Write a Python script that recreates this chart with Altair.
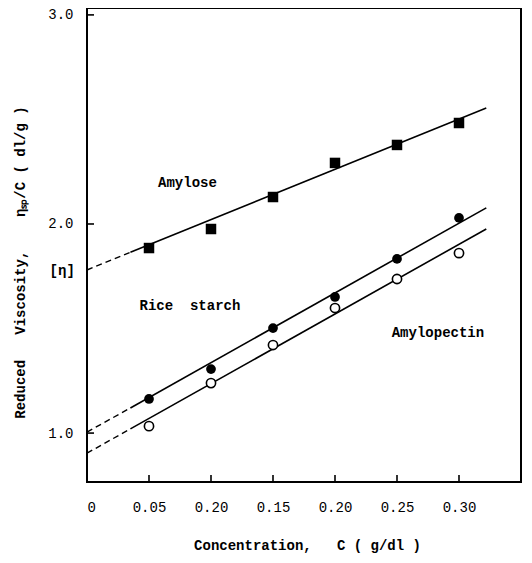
import altair as alt
import pandas as pd

NB = "\u00a0"  # non-breaking space (SVG collapses ordinary repeated spaces)

# ---- data ----
conc = [0.05, 0.10, 0.15, 0.20, 0.25, 0.30]
amylose = [1.885, 1.976, 2.129, 2.292, 2.378, 2.483]
rice = [1.163, 1.306, 1.502, 1.651, 1.833, 2.029]
amylopectin = [1.033, 1.239, 1.421, 1.598, 1.737, 1.861]

# fitted lines: x positions (dashed part 0 -> 0.035, solid part 0.035 -> 0.322)
line_x = [0.0, 0.035, 0.322]
amylose_line = [1.78, 1.865, 2.555]
rice_line = [1.005, 1.12, 2.077]
amylopectin_line = [0.904, 1.02, 1.976]

x_tick_values = [0, 0.05, 0.10, 0.15, 0.20, 0.25, 0.30]
x_tick_labels = ["0", "0.05", "0.20", "0.15", "0.20", "0.25", "0.30"]
y_tick_values = [1.0, 2.0, 3.0]

ann_text = ["Amylose", "Rice" + NB + NB + "starch", "Amylopectin", "[η]"]
ann_x = [0.081, 0.083, 0.283, -0.020]
ann_y = [2.196, 1.608, 1.478, 1.775]

x_title = "Concentration," + NB * 3 + "C" + NB + "(" + NB + "g/dl" + NB + ")"
y_title = "Reduced" + NB * 3 + "Viscosity," + NB * 4 + "ηₛₚ/C" + NB + "(" + NB + "dl/g" + NB + ")"

FONT = "Liberation Mono"

# ---- tables ----
pts = pd.DataFrame({
    "c": conc * 3,
    "v": amylose + rice + amylopectin,
    "s": ["Amylose"] * 6 + ["Rice starch"] * 6 + ["Amylopectin"] * 6,
})

rows = []
for name, ys in [("Amylose", amylose_line), ("Rice starch", rice_line), ("Amylopectin", amylopectin_line)]:
    rows.append({"s": name, "part": "dash", "c": line_x[0], "v": ys[0]})
    rows.append({"s": name, "part": "dash", "c": line_x[1], "v": ys[1]})
    rows.append({"s": name, "part": "solid", "c": line_x[1], "v": ys[1]})
    rows.append({"s": name, "part": "solid", "c": line_x[2], "v": ys[2]})
lines = pd.DataFrame(rows)

ann = pd.DataFrame({"t": ann_text, "c": ann_x, "v": ann_y})
xt = pd.DataFrame({"c": x_tick_values[1:]})
yt = pd.DataFrame({"v": y_tick_values})

W, H = 434, 474
xscale = alt.Scale(domain=[0, 0.35], nice=False, zero=False)
yscale = alt.Scale(domain=[0.766, 3.033], nice=False, zero=False)

# typed labels sit slightly right of their ticks (except "0"): lead with a nbsp
shown = [t if t == "0" else NB + t for t in x_tick_labels]
lab_idx = "[" + ",".join(str(round(v * 100)) for v in x_tick_values) + "]"
lab_txt = "[" + ",".join("'" + t + "'" for t in shown) + "]"
label_expr = f"{lab_txt}[indexof({lab_idx}, round(datum.value*100))]"

xaxis = alt.Axis(
    values=x_tick_values, labelExpr=label_expr, ticks=False, grid=False, domain=False,
    labelFont=FONT, labelFontSize=14, labelColor="black", labelPadding=18,
    title=x_title, titleFont=FONT, titleFontSize=14,
    titleFontWeight="bold", titleColor="black", titleX=220, titleY=63,
    titleBaseline="middle", titleAlign="center",
)
yaxis = alt.Axis(
    values=y_tick_values, format=".1f", ticks=False, grid=False, domain=False,
    labelFont=FONT, labelFontSize=14, labelColor="black", labelPadding=14,
    title=y_title, titleFont=FONT, titleFontSize=14,
    titleFontWeight="bold", titleColor="black", titleX=-67, titleY=254,
    titleAngle=270, titleBaseline="middle", titleAlign="center",
)

X = alt.X("c:Q", scale=xscale, axis=xaxis)
Y = alt.Y("v:Q", scale=yscale, axis=yaxis)

solid = alt.Chart(lines).transform_filter("datum.part == 'solid'").mark_line(
    color="black", strokeWidth=1.6).encode(x=X, y=Y, detail="s:N")
dashed = alt.Chart(lines).transform_filter("datum.part == 'dash'").mark_line(
    color="black", strokeWidth=1.4, strokeDash=[6, 4]).encode(x=X, y=Y, detail="s:N")

sq = alt.Chart(pts).transform_filter("datum.s == 'Amylose'").mark_point(
    shape="square", filled=True, color="black", size=110, opacity=1).encode(x=X, y=Y)
fc = alt.Chart(pts).transform_filter("datum.s == 'Rice starch'").mark_point(
    shape="circle", filled=True, color="black", size=95, opacity=1).encode(x=X, y=Y)
oc = alt.Chart(pts).transform_filter("datum.s == 'Amylopectin'").mark_point(
    shape="circle", filled=True, fill="white", stroke="black", strokeWidth=1.6,
    size=85, opacity=1).encode(x=X, y=Y)

xticks = alt.Chart(xt).mark_rule(color="black", strokeWidth=1.6).encode(
    x=X, y=alt.value(H), y2=alt.value(H - 7))
yticks = alt.Chart(yt).mark_rule(color="black", strokeWidth=1.6).encode(
    y=Y, x=alt.value(0), x2=alt.value(7))

texts = alt.Chart(ann).mark_text(
    font=FONT, fontSize=14, fontWeight="bold", color="black", align="center", baseline="middle"
).encode(x=X, y=Y, text="t:N")

chart = alt.layer(solid, dashed, sq, fc, oc, xticks, yticks, texts).properties(
    width=W, height=H,
    autosize=alt.AutoSizeParams(type="none"),
    padding={"left": 79, "top": 0, "right": 3, "bottom": 73},
    background="white",
).configure_view(stroke="black", strokeWidth=2)

chart.save("out.html", embed_options={"renderer": "svg", "actions": False})
